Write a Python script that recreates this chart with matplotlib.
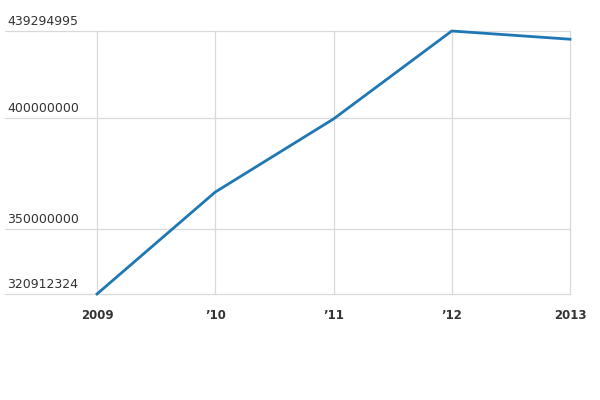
import matplotlib
matplotlib.use('Agg')
import matplotlib.pyplot as plt

years = [2009, 2010, 2011, 2012, 2013]
values = [320912324, 366800000, 399700000, 439294995, 435600000]
tick_labels = ['2009', '\u201910', '\u201911', '\u201912', '2013']
y_marks = [320912324, 350000000, 400000000, 439294995]

fig = plt.figure(figsize=(6, 4), dpi=100)
ax = fig.add_axes([5 / 600, 106 / 400, 565 / 600, 263 / 400])

ax.plot(years, values, color='#1f77b4', linewidth=2.0, clip_on=False, zorder=3)

ax.set_xlim(2009 - 92 / 118.25, 2013)
ax.set_ylim(min(y_marks), max(y_marks))

# grid lines
for y in y_marks:
    ax.axhline(y, color='#d9d9d9', linewidth=0.9, zorder=1, clip_on=False)
for x in years:
    ax.axvline(x, color='#d9d9d9', linewidth=0.9, zorder=1, clip_on=False)

for s in ax.spines.values():
    s.set_visible(False)
ax.set_yticks([])
ax.set_xticks(years)
ax.set_xticklabels(tick_labels, fontweight='bold', fontsize=8.5, color='#333333')
ax.tick_params(axis='x', length=0, pad=10.5)

# y labels above the grid lines
for y in y_marks:
    ax.annotate(str(y), xy=(0, y), xycoords=('axes fraction', 'data'),
                xytext=(1.5, 2.5), textcoords='offset points',
                ha='left', va='bottom', fontsize=9, color='#333333')

fig.savefig('out.png', dpi=100)
